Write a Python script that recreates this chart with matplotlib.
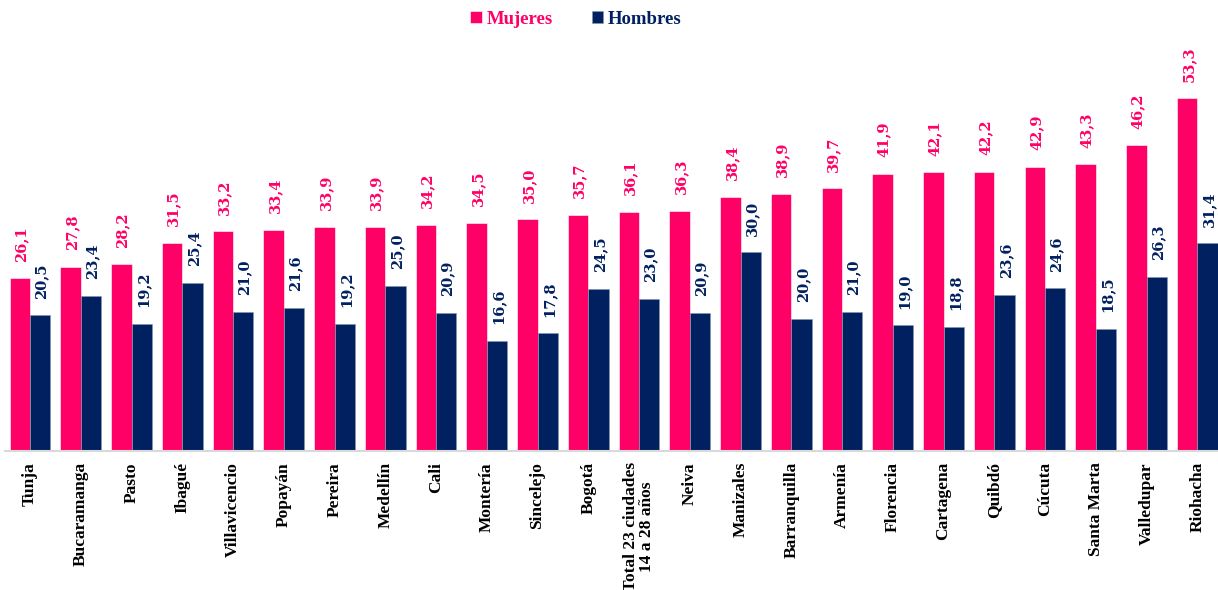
import numpy as np
import matplotlib.pyplot as plt

ciudades = ["Tunja", "Bucaramanga", "Pasto", "Ibagué", "Villavicencio", "Popayán",
            "Pereira", "Medellín", "Cali", "Montería", "Sincelejo", "Bogotá",
            "Total 23 ciudades\n14 a 28 años", "Neiva", "Manizales", "Barranquilla",
            "Armenía", "Florencia", "Cartagena", "Quibdó", "Cúcuta", "Santa Marta",
            "Valledupar", "Riohacha"]
mujeres = [26.1, 27.8, 28.2, 31.5, 33.2, 33.4, 33.9, 33.9, 34.2, 34.5, 35.0, 35.7,
           36.1, 36.3, 38.4, 38.9, 39.7, 41.9, 42.1, 42.2, 42.9, 43.3, 46.2, 53.3]
hombres = [20.5, 23.4, 19.2, 25.4, 21.0, 21.6, 19.2, 25.0, 20.9, 16.6, 17.8, 24.5,
           23.0, 20.9, 30.0, 20.0, 21.0, 19.0, 18.8, 23.6, 24.6, 18.5, 26.3, 31.4]

ROSA = "#FF0066"
AZUL = "#002060"

fig = plt.figure(figsize=(12.18, 5.9), dpi=100)
ax = fig.add_axes([0.0038, 0.2356, 1.0, 0.673])

x = np.arange(len(ciudades))
w = 0.4
b1 = ax.bar(x - w / 2, mujeres, w, color=ROSA, edgecolor="white", linewidth=0.4, label="Mujeres")
b2 = ax.bar(x + w / 2, hombres, w, color=AZUL, edgecolor="#8497B0", linewidth=0.4, label="Hombres")

def etiquetas(barras, valores, color):
    for rect, v in zip(barras, valores):
        ax.annotate(f"{v:.1f}".replace(".", ","),
                    (rect.get_x() + rect.get_width() / 2, rect.get_height()),
                    xytext=(1, 12), textcoords="offset points",
                    rotation=90, ha="center", va="bottom",
                    color=color, fontsize=10.5, fontweight="bold", family="DejaVu Serif")

etiquetas(b1, mujeres, ROSA)
etiquetas(b2, hombres, AZUL)

ax.set_xlim(-0.5, 23.5)
ax.set_ylim(0, 60)
ax.set_xticks(x)
ax.set_xticklabels(ciudades, rotation=90, ha="center", va="top",
                   family="Liberation Serif", fontweight="bold", fontsize=12.5,
                   linespacing=0.95)
ax.tick_params(axis="x", length=0, pad=8)
ax.set_yticks([])
for s in ["top", "right", "left"]:
    ax.spines[s].set_visible(False)
ax.spines["bottom"].set_color("#D9D9D9")
ax.spines["bottom"].set_linewidth(1.5)

leg = fig.legend(handles=[b1, b2], loc="upper center", bbox_to_anchor=(0.473, 1.01),
                 ncol=2, frameon=False, handlelength=0.6, handleheight=0.6,
                 handletextpad=0.25, columnspacing=2.1,
                 prop={"family": "Liberation Serif", "weight": "bold", "size": 13.5})
for t, c in zip(leg.get_texts(), [ROSA, AZUL]):
    t.set_color(c)

fig.savefig("out.png", dpi=100)
